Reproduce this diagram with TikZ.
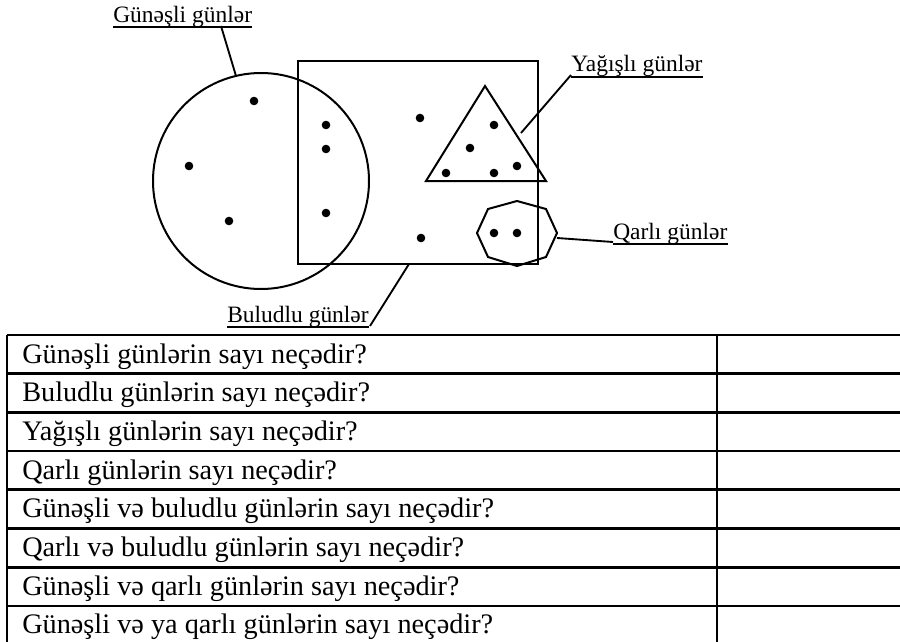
\documentclass[tikz,border=0pt]{standalone}
\usepackage{fontspec}
\setmainfont{Liberation Serif}
\begin{document}
\begin{tikzpicture}[x=0.75pt,y=-0.75pt,
  shape line/.style={line width=1.5pt},
  leader/.style={line width=1.4pt},
  dot/.style={fill=black},
  lbl/.style={inner sep=0pt, anchor=base west, font=\fontsize{17.6}{20}\selectfont},
  cell/.style={inner sep=0pt, anchor=base west, font=\fontsize{21.2}{24}\selectfont},
  grid line/.style={line width=2pt}]
\useasboundingbox (0,0) rectangle (900,642);

% shapes
\draw[shape line] (261,181) circle[radius=108];
\draw[shape line] (298,61) rectangle (538,264);
\draw[shape line] (485,86) -- (546,181) -- (426,181) -- cycle;
\draw[shape line] (517,201) -- (546,209) -- (557,233) -- (546,257) -- (517,266) -- (488,257) -- (477,233) -- (488,209) -- cycle;

% dots
\foreach \p in {(254,101),(189,166),(229,221),(326,125),(326,149),(326,213),(420,118),(421,238),
  (494,125),(470,148),(517,166),(446,173),(494,173),(494,233),(517,233)}
  \fill[dot] \p circle[radius=4.3];

% labels
\node[lbl] (lg) at (113,22.5) {Günəşli günlər};
\node[lbl] (ly) at (571,72) {Yağışlı günlər};
\node[lbl] (lq) at (613,239) {Qarlı günlər};
\node[lbl] (lb) at (227,322) {Buludlu günlər};
\foreach \n in {lg,ly,lq,lb}
  \draw[line width=1.4pt] ([yshift=-3.6pt]\n.base west) -- ([yshift=-3.6pt]\n.base east);

% leader end points
\coordinate (cg) at (221,26);
\coordinate (sg) at (236,76);
\coordinate (cy) at (571,75);
\coordinate (sy) at (521,133);
\coordinate (cq) at (613,242);
\coordinate (sq) at (557,238);
\coordinate (cb) at (370,326);
\coordinate (sb) at (409,264);
\draw[leader] (cg) -- (sg);
\draw[leader] (cy) -- (sy);
\draw[leader] (cq) -- (sq);
\draw[leader] (cb) -- (sb);

% table
\foreach \i in {0,...,8}
  \draw[grid line] (7,335+38.7*\i) -- (900,335+38.7*\i);
\draw[grid line] (7,335) -- (7,645);
\draw[grid line] (717,335) -- (717,645);

\node[cell] (r1) at (22,335+28) {Günəşli günlərin sayı neçədir?};
\node[cell] (r2) at (22,335+38.7+28) {Buludlu günlərin sayı neçədir?};
\node[cell] (r3) at (22,335+2*38.7+28) {Yağışlı günlərin sayı neçədir?};
\node[cell] (r4) at (22,335+3*38.7+28) {Qarlı günlərin sayı neçədir?};
\node[cell] (r5) at (22,335+4*38.7+28) {Günəşli və buludlu günlərin sayı neçədir?};
\node[cell] (r6) at (22,335+5*38.7+28) {Qarlı və buludlu günlərin sayı neçədir?};
\node[cell] (r7) at (22,335+6*38.7+28) {Günəşli və qarlı günlərin sayı neçədir?};
\node[cell] (r8) at (22,335+7*38.7+28) {Günəşli və ya qarlı günlərin sayı neçədir?};
\end{tikzpicture}
\end{document}
